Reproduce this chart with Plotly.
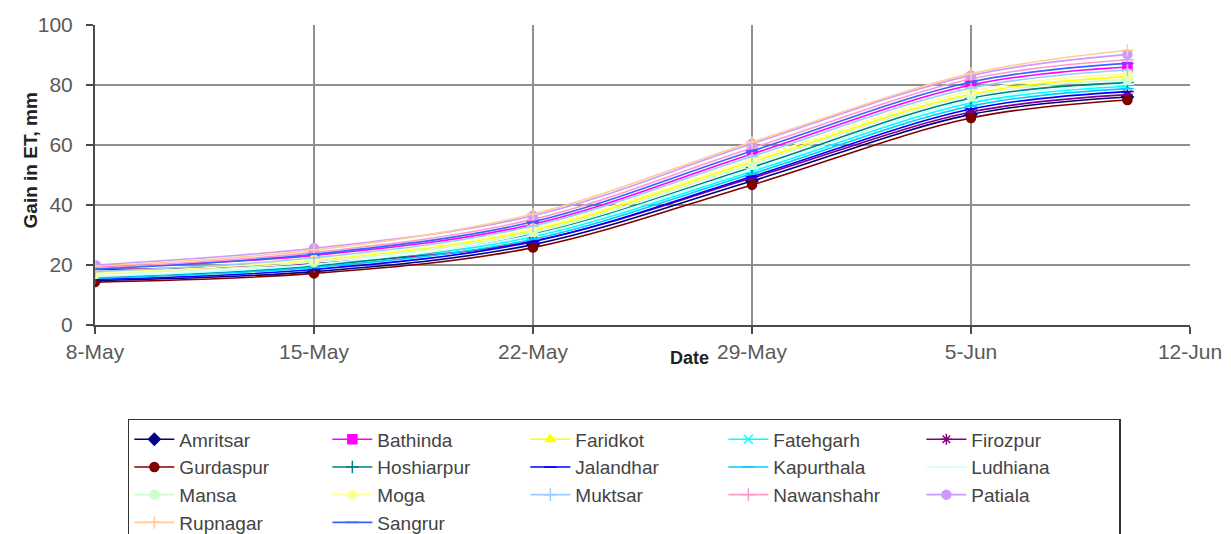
import plotly.graph_objects as go

# Weekly observation dates (last reading on 10 June)
dates = ["2008-05-08", "2008-05-15", "2008-05-22", "2008-05-29", "2008-06-05", "2008-06-10"]

# Cumulative gain in evapotranspiration (mm) per district
amritsar   = [14.8, 17.8, 26.8, 48.0, 70.2, 76.0]
bathinda   = [19.2, 23.2, 33.6, 57.0, 80.0, 86.0]
faridkot   = [17.4, 21.6, 31.6, 54.4, 77.0, 82.8]
fatehgarh  = [16.0, 19.8, 29.4, 51.2, 74.0, 79.6]
firozpur   = [18.5, 20.5, 28.0, 49.0, 71.0, 76.8]
gurdaspur  = [14.3, 17.2, 25.8, 46.7, 69.0, 75.0]
hoshiarpur = [15.8, 19.6, 30.2, 52.6, 75.6, 80.8]
jalandhar  = [15.2, 18.5, 27.8, 49.5, 72.0, 77.8]
kapurthala = [15.6, 19.2, 28.6, 50.4, 73.0, 78.8]
ludhiana   = [16.2, 20.2, 30.0, 52.0, 74.8, 80.2]
mansa      = [17.0, 21.0, 31.0, 53.6, 76.4, 81.8]
moga       = [17.2, 21.8, 32.2, 55.2, 78.0, 83.8]
muktsar    = [17.8, 22.4, 33.0, 56.2, 79.0, 85.0]
nawanshahr = [19.0, 24.2, 35.2, 59.0, 82.0, 88.4]
patiala    = [20.0, 25.6, 36.4, 60.4, 83.2, 90.2]
rupnagar   = [19.6, 25.0, 37.0, 61.0, 83.8, 91.6]
sangrur    = [18.6, 23.6, 34.4, 58.0, 81.0, 87.2]

districts = ["Amritsar", "Bathinda", "Faridkot", "Fatehgarh", "Firozpur",
             "Gurdaspur", "Hoshiarpur", "Jalandhar", "Kapurthala", "Ludhiana",
             "Mansa", "Moga", "Muktsar", "Nawanshahr", "Patiala",
             "Rupnagar", "Sangrur"]
values = [amritsar, bathinda, faridkot, fatehgarh, firozpur,
          gurdaspur, hoshiarpur, jalandhar, kapurthala, ludhiana,
          mansa, moga, muktsar, nawanshahr, patiala,
          rupnagar, sangrur]

colors = ["#000080", "#FF00FF", "#FFFF00", "#00FFFF", "#800080",
          "#800000", "#008080", "#0000FF", "#00CCFF", "#CCFFFF",
          "#CCFFCC", "#FFFF99", "#99CCFF", "#FF99CC", "#CC99FF",
          "#FFCC99", "#3366FF"]
symbols = ["diamond", "square", "triangle-up", "x-thin-open", "asterisk-open",
           "circle", "cross-thin-open", "line-ew-open", "line-ew-open", "line-ew-open",
           "circle", "circle", "cross-thin-open", "cross-thin-open", "circle",
           "cross-thin-open", "line-ew-open"]

fig = go.Figure()
for name, ys, col, sym in zip(districts, values, colors, symbols):
    fig.add_trace(go.Scatter(
        x=dates, y=ys, name=name, mode="lines+markers",
        line=dict(color=col, width=1.6, shape="spline", smoothing=1.0),
        marker=dict(symbol=sym, color=col, size=9,
                    line=dict(color=col, width=1.5)),
    ))

axis_font = dict(family="Liberation Sans, Arial, sans-serif", size=21, color="#5a5a5a")

fig.update_xaxes(
    type="date", range=["2008-05-08", "2008-06-12"],
    tick0="2008-05-08", dtick=7 * 24 * 3600 * 1000, tickformat="%-d-%b",
    showgrid=True, gridcolor="#8f8f8f", gridwidth=2,
    showline=True, linecolor="#4a4a4a", linewidth=2, mirror=False,
    ticks="outside", ticklen=7, tickcolor="#4a4a4a", tickwidth=2,
    tickfont=axis_font, zeroline=False,
)
fig.update_yaxes(
    range=[0, 100], dtick=20,
    showgrid=True, gridcolor="#8f8f8f", gridwidth=2,
    showline=True, linecolor="#4a4a4a", linewidth=2,
    ticks="outside", ticklen=7, tickcolor="#4a4a4a", tickwidth=2,
    tickfont=axis_font, zeroline=False, ticklabelstandoff=9,
)

fig.add_annotation(text="Gain in ET, mm", textangle=-90, xref="paper", yref="paper",
                   x=-0.0703, y=0.547, showarrow=False,
                   font=dict(family="Liberation Sans, Arial, sans-serif", size=19,
                             color="#222222", weight="bold"))
fig.add_annotation(text="Date", xref="paper", yref="paper",
                   x=0.5425, y=-0.15, showarrow=False,
                   font=dict(family="Liberation Sans, Arial, sans-serif", size=18,
                             color="#222222", weight="bold"))

fig.update_layout(
    width=1231, height=534,
    margin=dict(l=95, r=41, t=25, b=209, autoexpand=False),
    paper_bgcolor="white", plot_bgcolor="white",
    showlegend=True,
    legend=dict(
        orientation="h", x=0.030, xanchor="left", y=-0.313, yanchor="top",
        entrywidth=143, entrywidthmode="pixels",
        bordercolor="#333333", borderwidth=1.5, bgcolor="white",
        font=dict(family="Liberation Sans, Arial, sans-serif", size=19, color="#444444"),
        traceorder="normal", itemwidth=40,
    ),
)

fig.write_html("out.html")
